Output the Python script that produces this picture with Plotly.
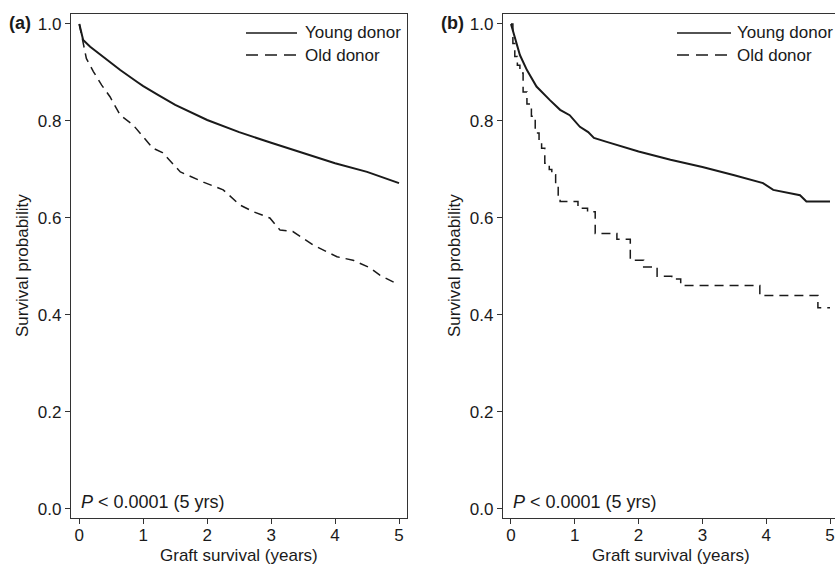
import plotly.graph_objects as go

# ---------------- data ----------------
# Panel (a)
a_young_years = [0, 0.06, 0.17, 0.37, 0.64, 0.9, 1.0, 1.23, 1.5, 2.0, 2.5, 3.0, 3.5, 4.0, 4.5, 5.0]
a_young_surv = [1.0, 0.967, 0.953, 0.933, 0.905, 0.881, 0.872, 0.854, 0.833, 0.802, 0.777, 0.755, 0.734, 0.713, 0.695, 0.672]

a_old_years = [0, 0.06, 0.11, 0.22, 0.35, 0.48, 0.64, 0.84, 1.15, 1.3, 1.58, 1.94, 2.25, 2.51, 2.72,
               2.98, 3.14, 3.34, 3.66, 4.03, 4.28, 4.55, 4.70, 4.94, 5.0]
a_old_surv = [1.0, 0.957, 0.929, 0.902, 0.874, 0.85, 0.812, 0.792, 0.744, 0.735, 0.695, 0.674, 0.658, 0.627, 0.613,
              0.60, 0.575, 0.572, 0.544, 0.52, 0.513, 0.497, 0.482, 0.466, 0.462]

# Panel (b)
b_young_years = [0, 0.06, 0.14, 0.25, 0.40, 0.61, 0.77, 0.92, 1.08, 1.21, 1.3, 1.5, 2.0, 2.5, 3.0, 3.5,
                 3.95, 4.11, 4.37, 4.53, 4.63, 5.0]
b_young_surv = [1.0, 0.971, 0.936, 0.905, 0.871, 0.843, 0.823, 0.812, 0.788, 0.777, 0.765, 0.757, 0.737, 0.72,
                0.705, 0.688, 0.672, 0.658, 0.651, 0.647, 0.634, 0.634]

b_old_years = [0, 0.03, 0.06, 0.10, 0.14, 0.19, 0.25, 0.32, 0.38, 0.44, 0.48, 0.53, 0.60, 0.64, 0.70, 0.74,
               0.77, 1.05, 1.20, 1.32, 1.66, 1.87, 2.08, 2.29, 2.52, 2.66, 3.90, 4.81, 5.0]
b_old_surv = [1.0, 0.96, 0.933, 0.915, 0.899, 0.86, 0.835, 0.81, 0.775, 0.76, 0.744, 0.713, 0.70, 0.689, 0.665,
              0.645, 0.634, 0.62, 0.613, 0.568, 0.556, 0.513, 0.499, 0.48, 0.474, 0.461, 0.44, 0.415, 0.415]

x_ticks = [0, 1, 2, 3, 4, 5]
y_ticks = [0.0, 0.2, 0.4, 0.6, 0.8, 1.0]
y_ticktext = ["0.0", "0.2", "0.4", "0.6", "0.8", "1.0"]

legend_names = ["Young donor", "Old donor"]
panel_labels = ["(a)", "(b)"]
x_title = "Graft survival (years)"
y_title = "Survival probability"
p_text = "<i>P</i> < 0.0001 (5 yrs)"

# ---------------- styling / layout ----------------
W, H = 835, 565
FONT = "Arial, 'Liberation Sans', Helvetica, sans-serif"
INK = "#1a1a1a"
AX = "#333333"


def fx(p):
    return p / W


def fy(p):
    return 1 - p / H


fig = go.Figure()

solid = dict(color=INK, width=2)
dashed = dict(color=INK, width=1.5, dash="9px,6px")

fig.add_trace(go.Scatter(x=a_young_years, y=a_young_surv, mode="lines", line=solid,
                         xaxis="x", yaxis="y", showlegend=False, name=legend_names[0]))
fig.add_trace(go.Scatter(x=a_old_years, y=a_old_surv, mode="lines", line=dashed,
                         xaxis="x", yaxis="y", showlegend=False, name=legend_names[1]))
fig.add_trace(go.Scatter(x=b_young_years, y=b_young_surv, mode="lines", line=solid,
                         xaxis="x2", yaxis="y2", showlegend=False, name=legend_names[0]))
fig.add_trace(go.Scatter(x=b_old_years, y=b_old_surv, mode="lines", line=dict(dashed, shape="hv"),
                         xaxis="x2", yaxis="y2", showlegend=False, name=legend_names[1]))

ydom = [fy(518), fy(14)]
yrange = [-0.0186, 1.0206]

common_x = dict(tickvals=x_ticks, ticks="outside", ticklen=5, tickwidth=1.2, tickcolor=AX,
                ticklabelstandoff=-4,
                showline=True, linecolor=AX, linewidth=1.3, showgrid=False, zeroline=False,
                tickfont=dict(family=FONT, size=17, color=INK), fixedrange=True)
common_y = dict(tickvals=y_ticks, ticktext=y_ticktext, range=yrange, domain=ydom,
                ticks="outside", ticklen=5, tickwidth=1.2, tickcolor=AX,
                showline=True, linecolor=AX, linewidth=1.3, showgrid=False, zeroline=False,
                tickfont=dict(family=FONT, size=17, color=INK), fixedrange=True)

fig.update_layout(
    width=W, height=H,
    margin=dict(l=0, r=0, t=0, b=0),
    paper_bgcolor="white", plot_bgcolor="white",
    showlegend=False,
    xaxis=dict(common_x, domain=[fx(71), fx(407)], range=[-0.13, 5.125], anchor="y", mirror=True),
    yaxis=dict(common_y, anchor="x", mirror=True),
    xaxis2=dict(common_x, domain=[fx(503), 1.0], range=[-0.125, 5.078], anchor="y2", mirror=True),
    yaxis2=dict(common_y, anchor="x2", mirror=False),
)

annotations = []
shapes = []
txt = dict(family=FONT, size=17, color=INK)
for off, px_p, lab in zip([0, 432], [79, 511], panel_labels):
    annotations.append(dict(x=fx(7 + off), y=fy(23), xref="paper", yref="paper", text="<b>%s</b>" % lab,
                            showarrow=False, xanchor="left", yanchor="middle",
                            font=dict(family=FONT, size=18, color=INK)))
    annotations.append(dict(x=fx(22 + off), y=fy(266), xref="paper", yref="paper", text=y_title,
                            textangle=-90, showarrow=False, xanchor="center", yanchor="middle", font=txt))
    annotations.append(dict(x=fx(px_p), y=fy(502), xref="paper", yref="paper", text=p_text,
                            showarrow=False, xanchor="left", yanchor="middle",
                            font=dict(family=FONT, size=18, color=INK)))

annotations.append(dict(x=fx(239.5), y=fy(555), xref="paper", yref="paper", text=x_title,
                        showarrow=False, xanchor="center", yanchor="middle", font=txt))
annotations.append(dict(x=fx(671), y=fy(555), xref="paper", yref="paper", text=x_title,
                        showarrow=False, xanchor="center", yanchor="middle", font=txt))

# legends (manual keys)
for x0, x1, xt in [(246, 297, 303), (677, 731, 735)]:
    shapes.append(dict(type="line", xref="paper", yref="paper", x0=fx(x0), x1=fx(x1), y0=fy(33), y1=fy(33),
                       line=dict(color=INK, width=1.3)))
    shapes.append(dict(type="line", xref="paper", yref="paper", x0=fx(x0), x1=fx(x1), y0=fy(55), y1=fy(55),
                       line=dict(color=INK, width=1.3, dash="12px,7px")))
    annotations.append(dict(x=fx(xt), y=fy(33), xref="paper", yref="paper", text=legend_names[0],
                            showarrow=False, xanchor="left", yanchor="middle", font=txt))
    annotations.append(dict(x=fx(xt), y=fy(55), xref="paper", yref="paper", text=legend_names[1],
                            showarrow=False, xanchor="left", yanchor="middle", font=txt))

fig.update_layout(annotations=annotations, shapes=shapes)

fig.write_html("out.html",
               config={"displayModeBar": False},
               post_script="document.body.style.margin='0';document.body.style.padding='0';"
                           "document.body.style.overflow='hidden';")
